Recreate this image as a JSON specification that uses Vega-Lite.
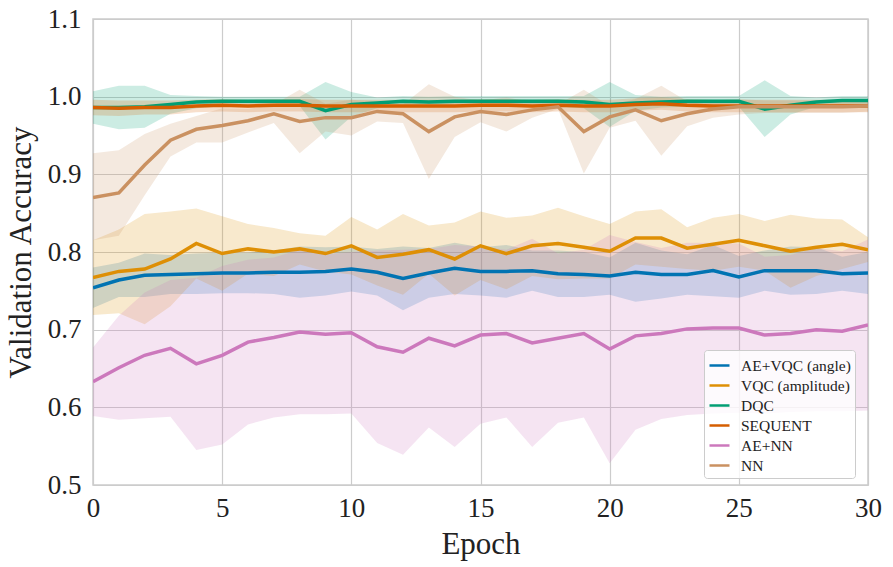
{
  "$schema": "https://vega.github.io/schema/vega-lite/v6.json",
  "autosize": {"type": "none"},
  "padding": {"left": 93, "top": 19, "right": 25, "bottom": 82},
  "width": 775,
  "height": 466,
  "background": "white",
  "config": {
    "font": "'Liberation Serif', 'DejaVu Serif', serif",
    "view": {"stroke": "#cccccc", "strokeWidth": 1.5},
    "axis": {
      "domain": false,
      "ticks": false,
      "grid": true,
      "gridColor": "#cccccc",
      "gridWidth": 1.2,
      "labelFont": "'Liberation Serif', 'DejaVu Serif', serif",
      "labelFontSize": 27,
      "labelColor": "#222222",
      "titleFont": "'Liberation Serif', 'DejaVu Serif', serif",
      "titleFontSize": 31,
      "titleFontWeight": "normal",
      "titleColor": "#222222"
    },
    "legend": {
      "labelFont": "'Liberation Serif', 'DejaVu Serif', serif"
    }
  },
  "data": {
    "values": [
      {"model": "AE+VQC (angle)", "epoch": 0, "mean": 0.754, "lo": 0.728, "hi": 0.780},
      {"model": "AE+VQC (angle)", "epoch": 1, "mean": 0.764, "lo": 0.742, "hi": 0.786},
      {"model": "AE+VQC (angle)", "epoch": 2, "mean": 0.770, "lo": 0.742, "hi": 0.798},
      {"model": "AE+VQC (angle)", "epoch": 3, "mean": 0.771, "lo": 0.746, "hi": 0.796},
      {"model": "AE+VQC (angle)", "epoch": 4, "mean": 0.772, "lo": 0.746, "hi": 0.798},
      {"model": "AE+VQC (angle)", "epoch": 5, "mean": 0.773, "lo": 0.747, "hi": 0.799},
      {"model": "AE+VQC (angle)", "epoch": 6, "mean": 0.773, "lo": 0.747, "hi": 0.799},
      {"model": "AE+VQC (angle)", "epoch": 7, "mean": 0.774, "lo": 0.746, "hi": 0.802},
      {"model": "AE+VQC (angle)", "epoch": 8, "mean": 0.774, "lo": 0.741, "hi": 0.807},
      {"model": "AE+VQC (angle)", "epoch": 9, "mean": 0.775, "lo": 0.744, "hi": 0.806},
      {"model": "AE+VQC (angle)", "epoch": 10, "mean": 0.778, "lo": 0.749, "hi": 0.807},
      {"model": "AE+VQC (angle)", "epoch": 11, "mean": 0.774, "lo": 0.744, "hi": 0.804},
      {"model": "AE+VQC (angle)", "epoch": 12, "mean": 0.766, "lo": 0.725, "hi": 0.807},
      {"model": "AE+VQC (angle)", "epoch": 13, "mean": 0.773, "lo": 0.741, "hi": 0.805},
      {"model": "AE+VQC (angle)", "epoch": 14, "mean": 0.779, "lo": 0.746, "hi": 0.812},
      {"model": "AE+VQC (angle)", "epoch": 15, "mean": 0.775, "lo": 0.744, "hi": 0.806},
      {"model": "AE+VQC (angle)", "epoch": 16, "mean": 0.775, "lo": 0.741, "hi": 0.809},
      {"model": "AE+VQC (angle)", "epoch": 17, "mean": 0.776, "lo": 0.750, "hi": 0.802},
      {"model": "AE+VQC (angle)", "epoch": 18, "mean": 0.772, "lo": 0.742, "hi": 0.802},
      {"model": "AE+VQC (angle)", "epoch": 19, "mean": 0.771, "lo": 0.742, "hi": 0.800},
      {"model": "AE+VQC (angle)", "epoch": 20, "mean": 0.769, "lo": 0.745, "hi": 0.793},
      {"model": "AE+VQC (angle)", "epoch": 21, "mean": 0.774, "lo": 0.736, "hi": 0.812},
      {"model": "AE+VQC (angle)", "epoch": 22, "mean": 0.771, "lo": 0.740, "hi": 0.802},
      {"model": "AE+VQC (angle)", "epoch": 23, "mean": 0.771, "lo": 0.745, "hi": 0.797},
      {"model": "AE+VQC (angle)", "epoch": 24, "mean": 0.776, "lo": 0.743, "hi": 0.809},
      {"model": "AE+VQC (angle)", "epoch": 25, "mean": 0.768, "lo": 0.741, "hi": 0.795},
      {"model": "AE+VQC (angle)", "epoch": 26, "mean": 0.776, "lo": 0.750, "hi": 0.802},
      {"model": "AE+VQC (angle)", "epoch": 27, "mean": 0.776, "lo": 0.745, "hi": 0.807},
      {"model": "AE+VQC (angle)", "epoch": 28, "mean": 0.776, "lo": 0.746, "hi": 0.806},
      {"model": "AE+VQC (angle)", "epoch": 29, "mean": 0.772, "lo": 0.750, "hi": 0.794},
      {"model": "AE+VQC (angle)", "epoch": 30, "mean": 0.773, "lo": 0.746, "hi": 0.800},

      {"model": "VQC (amplitude)", "epoch": 0, "mean": 0.767, "lo": 0.719, "hi": 0.815},
      {"model": "VQC (amplitude)", "epoch": 1, "mean": 0.775, "lo": 0.721, "hi": 0.829},
      {"model": "VQC (amplitude)", "epoch": 2, "mean": 0.778, "lo": 0.707, "hi": 0.849},
      {"model": "VQC (amplitude)", "epoch": 3, "mean": 0.791, "lo": 0.730, "hi": 0.852},
      {"model": "VQC (amplitude)", "epoch": 4, "mean": 0.811, "lo": 0.766, "hi": 0.856},
      {"model": "VQC (amplitude)", "epoch": 5, "mean": 0.798, "lo": 0.750, "hi": 0.846},
      {"model": "VQC (amplitude)", "epoch": 6, "mean": 0.804, "lo": 0.772, "hi": 0.836},
      {"model": "VQC (amplitude)", "epoch": 7, "mean": 0.800, "lo": 0.769, "hi": 0.831},
      {"model": "VQC (amplitude)", "epoch": 8, "mean": 0.804, "lo": 0.784, "hi": 0.824},
      {"model": "VQC (amplitude)", "epoch": 9, "mean": 0.798, "lo": 0.775, "hi": 0.821},
      {"model": "VQC (amplitude)", "epoch": 10, "mean": 0.808, "lo": 0.771, "hi": 0.845},
      {"model": "VQC (amplitude)", "epoch": 11, "mean": 0.793, "lo": 0.757, "hi": 0.829},
      {"model": "VQC (amplitude)", "epoch": 12, "mean": 0.797, "lo": 0.745, "hi": 0.849},
      {"model": "VQC (amplitude)", "epoch": 13, "mean": 0.803, "lo": 0.772, "hi": 0.834},
      {"model": "VQC (amplitude)", "epoch": 14, "mean": 0.791, "lo": 0.744, "hi": 0.838},
      {"model": "VQC (amplitude)", "epoch": 15, "mean": 0.808, "lo": 0.764, "hi": 0.852},
      {"model": "VQC (amplitude)", "epoch": 16, "mean": 0.798, "lo": 0.752, "hi": 0.844},
      {"model": "VQC (amplitude)", "epoch": 17, "mean": 0.808, "lo": 0.769, "hi": 0.847},
      {"model": "VQC (amplitude)", "epoch": 18, "mean": 0.811, "lo": 0.765, "hi": 0.857},
      {"model": "VQC (amplitude)", "epoch": 19, "mean": 0.806, "lo": 0.766, "hi": 0.846},
      {"model": "VQC (amplitude)", "epoch": 20, "mean": 0.801, "lo": 0.766, "hi": 0.836},
      {"model": "VQC (amplitude)", "epoch": 21, "mean": 0.818, "lo": 0.784, "hi": 0.852},
      {"model": "VQC (amplitude)", "epoch": 22, "mean": 0.818, "lo": 0.781, "hi": 0.855},
      {"model": "VQC (amplitude)", "epoch": 23, "mean": 0.805, "lo": 0.778, "hi": 0.832},
      {"model": "VQC (amplitude)", "epoch": 24, "mean": 0.810, "lo": 0.776, "hi": 0.844},
      {"model": "VQC (amplitude)", "epoch": 25, "mean": 0.815, "lo": 0.781, "hi": 0.849},
      {"model": "VQC (amplitude)", "epoch": 26, "mean": 0.808, "lo": 0.776, "hi": 0.840},
      {"model": "VQC (amplitude)", "epoch": 27, "mean": 0.801, "lo": 0.754, "hi": 0.848},
      {"model": "VQC (amplitude)", "epoch": 28, "mean": 0.806, "lo": 0.769, "hi": 0.843},
      {"model": "VQC (amplitude)", "epoch": 29, "mean": 0.810, "lo": 0.778, "hi": 0.842},
      {"model": "VQC (amplitude)", "epoch": 30, "mean": 0.803, "lo": 0.787, "hi": 0.819},

      {"model": "DQC", "epoch": 0, "mean": 0.986, "lo": 0.965, "hi": 1.007},
      {"model": "DQC", "epoch": 1, "mean": 0.986, "lo": 0.958, "hi": 1.014},
      {"model": "DQC", "epoch": 2, "mean": 0.987, "lo": 0.960, "hi": 1.014},
      {"model": "DQC", "epoch": 3, "mean": 0.990, "lo": 0.978, "hi": 1.002},
      {"model": "DQC", "epoch": 4, "mean": 0.993, "lo": 0.985, "hi": 1.001},
      {"model": "DQC", "epoch": 5, "mean": 0.994, "lo": 0.988, "hi": 1.000},
      {"model": "DQC", "epoch": 6, "mean": 0.994, "lo": 0.988, "hi": 1.000},
      {"model": "DQC", "epoch": 7, "mean": 0.994, "lo": 0.988, "hi": 1.000},
      {"model": "DQC", "epoch": 8, "mean": 0.994, "lo": 0.988, "hi": 1.000},
      {"model": "DQC", "epoch": 9, "mean": 0.982, "lo": 0.945, "hi": 1.019},
      {"model": "DQC", "epoch": 10, "mean": 0.990, "lo": 0.974, "hi": 1.006},
      {"model": "DQC", "epoch": 11, "mean": 0.992, "lo": 0.985, "hi": 0.999},
      {"model": "DQC", "epoch": 12, "mean": 0.994, "lo": 0.987, "hi": 1.001},
      {"model": "DQC", "epoch": 13, "mean": 0.993, "lo": 0.986, "hi": 1.000},
      {"model": "DQC", "epoch": 14, "mean": 0.994, "lo": 0.987, "hi": 1.001},
      {"model": "DQC", "epoch": 15, "mean": 0.994, "lo": 0.987, "hi": 1.001},
      {"model": "DQC", "epoch": 16, "mean": 0.994, "lo": 0.987, "hi": 1.001},
      {"model": "DQC", "epoch": 17, "mean": 0.994, "lo": 0.987, "hi": 1.001},
      {"model": "DQC", "epoch": 18, "mean": 0.994, "lo": 0.987, "hi": 1.001},
      {"model": "DQC", "epoch": 19, "mean": 0.993, "lo": 0.985, "hi": 1.001},
      {"model": "DQC", "epoch": 20, "mean": 0.990, "lo": 0.961, "hi": 1.019},
      {"model": "DQC", "epoch": 21, "mean": 0.992, "lo": 0.982, "hi": 1.002},
      {"model": "DQC", "epoch": 22, "mean": 0.993, "lo": 0.986, "hi": 1.000},
      {"model": "DQC", "epoch": 23, "mean": 0.994, "lo": 0.987, "hi": 1.001},
      {"model": "DQC", "epoch": 24, "mean": 0.994, "lo": 0.987, "hi": 1.001},
      {"model": "DQC", "epoch": 25, "mean": 0.994, "lo": 0.987, "hi": 1.001},
      {"model": "DQC", "epoch": 26, "mean": 0.984, "lo": 0.948, "hi": 1.021},
      {"model": "DQC", "epoch": 27, "mean": 0.989, "lo": 0.977, "hi": 1.001},
      {"model": "DQC", "epoch": 28, "mean": 0.993, "lo": 0.987, "hi": 0.999},
      {"model": "DQC", "epoch": 29, "mean": 0.995, "lo": 0.989, "hi": 1.001},
      {"model": "DQC", "epoch": 30, "mean": 0.995, "lo": 0.989, "hi": 1.001},

      {"model": "SEQUENT", "epoch": 0, "mean": 0.986, "lo": 0.976, "hi": 0.996},
      {"model": "SEQUENT", "epoch": 1, "mean": 0.985, "lo": 0.975, "hi": 0.995},
      {"model": "SEQUENT", "epoch": 2, "mean": 0.986, "lo": 0.977, "hi": 0.995},
      {"model": "SEQUENT", "epoch": 3, "mean": 0.986, "lo": 0.977, "hi": 0.995},
      {"model": "SEQUENT", "epoch": 4, "mean": 0.988, "lo": 0.980, "hi": 0.996},
      {"model": "SEQUENT", "epoch": 5, "mean": 0.989, "lo": 0.981, "hi": 0.997},
      {"model": "SEQUENT", "epoch": 6, "mean": 0.988, "lo": 0.980, "hi": 0.996},
      {"model": "SEQUENT", "epoch": 7, "mean": 0.989, "lo": 0.981, "hi": 0.997},
      {"model": "SEQUENT", "epoch": 8, "mean": 0.989, "lo": 0.981, "hi": 0.997},
      {"model": "SEQUENT", "epoch": 9, "mean": 0.988, "lo": 0.980, "hi": 0.996},
      {"model": "SEQUENT", "epoch": 10, "mean": 0.988, "lo": 0.980, "hi": 0.996},
      {"model": "SEQUENT", "epoch": 11, "mean": 0.988, "lo": 0.980, "hi": 0.996},
      {"model": "SEQUENT", "epoch": 12, "mean": 0.988, "lo": 0.980, "hi": 0.996},
      {"model": "SEQUENT", "epoch": 13, "mean": 0.988, "lo": 0.980, "hi": 0.996},
      {"model": "SEQUENT", "epoch": 14, "mean": 0.988, "lo": 0.980, "hi": 0.996},
      {"model": "SEQUENT", "epoch": 15, "mean": 0.989, "lo": 0.981, "hi": 0.997},
      {"model": "SEQUENT", "epoch": 16, "mean": 0.989, "lo": 0.981, "hi": 0.997},
      {"model": "SEQUENT", "epoch": 17, "mean": 0.988, "lo": 0.980, "hi": 0.996},
      {"model": "SEQUENT", "epoch": 18, "mean": 0.989, "lo": 0.981, "hi": 0.997},
      {"model": "SEQUENT", "epoch": 19, "mean": 0.988, "lo": 0.980, "hi": 0.996},
      {"model": "SEQUENT", "epoch": 20, "mean": 0.988, "lo": 0.980, "hi": 0.996},
      {"model": "SEQUENT", "epoch": 21, "mean": 0.990, "lo": 0.982, "hi": 0.998},
      {"model": "SEQUENT", "epoch": 22, "mean": 0.991, "lo": 0.983, "hi": 0.999},
      {"model": "SEQUENT", "epoch": 23, "mean": 0.989, "lo": 0.981, "hi": 0.997},
      {"model": "SEQUENT", "epoch": 24, "mean": 0.988, "lo": 0.980, "hi": 0.996},
      {"model": "SEQUENT", "epoch": 25, "mean": 0.988, "lo": 0.980, "hi": 0.996},
      {"model": "SEQUENT", "epoch": 26, "mean": 0.988, "lo": 0.980, "hi": 0.996},
      {"model": "SEQUENT", "epoch": 27, "mean": 0.988, "lo": 0.980, "hi": 0.996},
      {"model": "SEQUENT", "epoch": 28, "mean": 0.988, "lo": 0.980, "hi": 0.996},
      {"model": "SEQUENT", "epoch": 29, "mean": 0.988, "lo": 0.980, "hi": 0.996},
      {"model": "SEQUENT", "epoch": 30, "mean": 0.988, "lo": 0.980, "hi": 0.996},

      {"model": "AE+NN", "epoch": 0, "mean": 0.633, "lo": 0.589, "hi": 0.677},
      {"model": "AE+NN", "epoch": 1, "mean": 0.651, "lo": 0.584, "hi": 0.718},
      {"model": "AE+NN", "epoch": 2, "mean": 0.667, "lo": 0.586, "hi": 0.748},
      {"model": "AE+NN", "epoch": 3, "mean": 0.676, "lo": 0.588, "hi": 0.764},
      {"model": "AE+NN", "epoch": 4, "mean": 0.656, "lo": 0.545, "hi": 0.767},
      {"model": "AE+NN", "epoch": 5, "mean": 0.667, "lo": 0.552, "hi": 0.782},
      {"model": "AE+NN", "epoch": 6, "mean": 0.684, "lo": 0.578, "hi": 0.790},
      {"model": "AE+NN", "epoch": 7, "mean": 0.690, "lo": 0.587, "hi": 0.793},
      {"model": "AE+NN", "epoch": 8, "mean": 0.697, "lo": 0.591, "hi": 0.803},
      {"model": "AE+NN", "epoch": 9, "mean": 0.694, "lo": 0.591, "hi": 0.797},
      {"model": "AE+NN", "epoch": 10, "mean": 0.696, "lo": 0.592, "hi": 0.800},
      {"model": "AE+NN", "epoch": 11, "mean": 0.678, "lo": 0.554, "hi": 0.802},
      {"model": "AE+NN", "epoch": 12, "mean": 0.671, "lo": 0.539, "hi": 0.803},
      {"model": "AE+NN", "epoch": 13, "mean": 0.689, "lo": 0.574, "hi": 0.804},
      {"model": "AE+NN", "epoch": 14, "mean": 0.679, "lo": 0.549, "hi": 0.809},
      {"model": "AE+NN", "epoch": 15, "mean": 0.693, "lo": 0.579, "hi": 0.807},
      {"model": "AE+NN", "epoch": 16, "mean": 0.695, "lo": 0.587, "hi": 0.803},
      {"model": "AE+NN", "epoch": 17, "mean": 0.683, "lo": 0.549, "hi": 0.817},
      {"model": "AE+NN", "epoch": 18, "mean": 0.689, "lo": 0.580, "hi": 0.798},
      {"model": "AE+NN", "epoch": 19, "mean": 0.695, "lo": 0.587, "hi": 0.803},
      {"model": "AE+NN", "epoch": 20, "mean": 0.675, "lo": 0.528, "hi": 0.822},
      {"model": "AE+NN", "epoch": 21, "mean": 0.692, "lo": 0.571, "hi": 0.813},
      {"model": "AE+NN", "epoch": 22, "mean": 0.695, "lo": 0.585, "hi": 0.805},
      {"model": "AE+NN", "epoch": 23, "mean": 0.701, "lo": 0.590, "hi": 0.812},
      {"model": "AE+NN", "epoch": 24, "mean": 0.702, "lo": 0.592, "hi": 0.812},
      {"model": "AE+NN", "epoch": 25, "mean": 0.702, "lo": 0.593, "hi": 0.811},
      {"model": "AE+NN", "epoch": 26, "mean": 0.693, "lo": 0.592, "hi": 0.794},
      {"model": "AE+NN", "epoch": 27, "mean": 0.695, "lo": 0.594, "hi": 0.796},
      {"model": "AE+NN", "epoch": 28, "mean": 0.700, "lo": 0.595, "hi": 0.805},
      {"model": "AE+NN", "epoch": 29, "mean": 0.698, "lo": 0.595, "hi": 0.801},
      {"model": "AE+NN", "epoch": 30, "mean": 0.706, "lo": 0.596, "hi": 0.816},

      {"model": "NN", "epoch": 0, "mean": 0.870, "lo": 0.815, "hi": 0.927},
      {"model": "NN", "epoch": 1, "mean": 0.876, "lo": 0.821, "hi": 0.931},
      {"model": "NN", "epoch": 2, "mean": 0.912, "lo": 0.873, "hi": 0.952},
      {"model": "NN", "epoch": 3, "mean": 0.944, "lo": 0.923, "hi": 0.965},
      {"model": "NN", "epoch": 4, "mean": 0.958, "lo": 0.941, "hi": 0.975},
      {"model": "NN", "epoch": 5, "mean": 0.963, "lo": 0.941, "hi": 0.985},
      {"model": "NN", "epoch": 6, "mean": 0.969, "lo": 0.954, "hi": 0.984},
      {"model": "NN", "epoch": 7, "mean": 0.978, "lo": 0.966, "hi": 0.990},
      {"model": "NN", "epoch": 8, "mean": 0.968, "lo": 0.927, "hi": 1.009},
      {"model": "NN", "epoch": 9, "mean": 0.973, "lo": 0.955, "hi": 0.991},
      {"model": "NN", "epoch": 10, "mean": 0.973, "lo": 0.950, "hi": 0.996},
      {"model": "NN", "epoch": 11, "mean": 0.981, "lo": 0.968, "hi": 0.994},
      {"model": "NN", "epoch": 12, "mean": 0.978, "lo": 0.966, "hi": 0.990},
      {"model": "NN", "epoch": 13, "mean": 0.955, "lo": 0.894, "hi": 1.016},
      {"model": "NN", "epoch": 14, "mean": 0.974, "lo": 0.948, "hi": 1.000},
      {"model": "NN", "epoch": 15, "mean": 0.981, "lo": 0.967, "hi": 0.995},
      {"model": "NN", "epoch": 16, "mean": 0.977, "lo": 0.955, "hi": 0.999},
      {"model": "NN", "epoch": 17, "mean": 0.983, "lo": 0.973, "hi": 0.993},
      {"model": "NN", "epoch": 18, "mean": 0.987, "lo": 0.984, "hi": 0.990},
      {"model": "NN", "epoch": 19, "mean": 0.955, "lo": 0.901, "hi": 1.009},
      {"model": "NN", "epoch": 20, "mean": 0.974, "lo": 0.960, "hi": 0.988},
      {"model": "NN", "epoch": 21, "mean": 0.983, "lo": 0.969, "hi": 0.997},
      {"model": "NN", "epoch": 22, "mean": 0.969, "lo": 0.924, "hi": 1.014},
      {"model": "NN", "epoch": 23, "mean": 0.978, "lo": 0.962, "hi": 0.994},
      {"model": "NN", "epoch": 24, "mean": 0.984, "lo": 0.973, "hi": 0.995},
      {"model": "NN", "epoch": 25, "mean": 0.987, "lo": 0.977, "hi": 0.997},
      {"model": "NN", "epoch": 26, "mean": 0.987, "lo": 0.979, "hi": 0.995},
      {"model": "NN", "epoch": 27, "mean": 0.987, "lo": 0.979, "hi": 0.995},
      {"model": "NN", "epoch": 28, "mean": 0.987, "lo": 0.979, "hi": 0.995},
      {"model": "NN", "epoch": 29, "mean": 0.987, "lo": 0.979, "hi": 0.995},
      {"model": "NN", "epoch": 30, "mean": 0.988, "lo": 0.981, "hi": 0.995}
    ]
  },
  "encoding": {
    "x": {
      "field": "epoch",
      "type": "quantitative",
      "scale": {"domain": [0, 30], "nice": false, "zero": false},
      "axis": {"values": [0, 5, 10, 15, 20, 25, 30], "labelPadding": 10, "titlePadding": 8, "labelFlush": false},
      "title": "Epoch"
    },
    "color": {
      "field": "model",
      "type": "nominal",
      "scale": {
        "domain": ["AE+VQC (angle)", "VQC (amplitude)", "DQC", "SEQUENT", "AE+NN", "NN"],
        "range": ["#0173b2", "#de8f05", "#029e73", "#d55e00", "#cc78bc", "#ca9161"]
      },
      "legend": {
        "title": null,
        "orient": "none",
        "legendX": 611,
        "legendY": 331,
        "symbolType": "stroke",
        "symbolSize": 400,
        "symbolStrokeWidth": 2.5,
        "symbolOpacity": 1,
        "labelFont": "Liberation Serif",
        "labelFontSize": 15.5,
        "labelColor": "#222222",
        "labelOffset": 10,
        "rowPadding": 0,
        "padding": 4,
        "fillColor": "rgba(255,255,255,0.8)",
        "strokeColor": "#cccccc",
        "cornerRadius": 3
      }
    }
  },
  "layer": [
    {
      "mark": {"type": "area", "opacity": 0.2, "clip": true},
      "encoding": {
        "y": {
          "field": "lo",
          "type": "quantitative",
          "scale": {"domain": [0.5, 1.1], "nice": false, "zero": false},
          "axis": {"values": [0.5, 0.6, 0.7, 0.8, 0.9, 1.0, 1.1], "format": ".1f", "labelPadding": 12, "titlePadding": 10},
          "title": "Validation Accuracy"
        },
        "y2": {"field": "hi"}
      }
    },
    {
      "mark": {"type": "line", "strokeWidth": 3.5, "clip": true},
      "encoding": {
        "y": {"field": "mean", "type": "quantitative"}
      }
    }
  ]
}
